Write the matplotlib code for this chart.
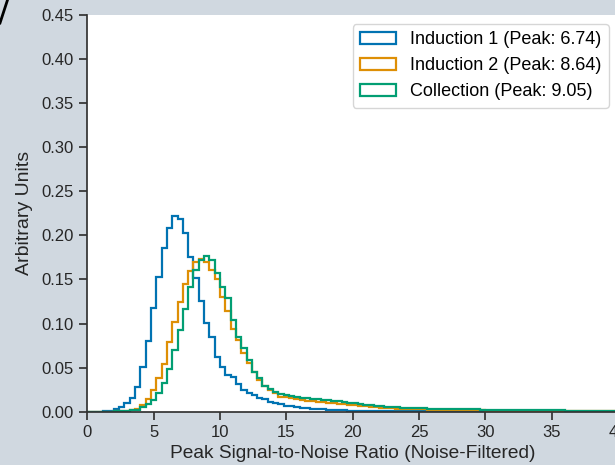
import numpy as np
import matplotlib
matplotlib.use('Agg')
import matplotlib.pyplot as plt
from matplotlib.lines import Line2D

# Dane (szerokosc przedzialu 0.4, zakres 0-40)
bin_edges = np.round(np.arange(0, 40.01, 0.4), 2)

induction1 = [
    0.0, 0.0, 0.0002, 0.0005, 0.0012, 0.003, 0.0057, 0.0099, 0.0159, 0.0284,
    0.051, 0.080, 0.1176, 0.153, 0.186, 0.2087, 0.222, 0.2186, 0.2024, 0.176,
    0.1513, 0.1256, 0.101, 0.085, 0.0624, 0.051, 0.0416, 0.039, 0.031, 0.025,
    0.021, 0.019, 0.016, 0.014, 0.0115, 0.0095, 0.0082, 0.0070, 0.0060, 0.0052,
    0.0045, 0.0039, 0.0034, 0.0030, 0.0026, 0.0022, 0.0019, 0.0016, 0.0014, 0.0012,
    0.0010, 0.0009, 0.0008, 0.0007, 0.0006, 0.0005, 0.0005, 0.0004, 0.0004, 0.0004,
    0.0003, 0.0003, 0.0003, 0.0003, 0.0003, 0.0003, 0.0003, 0.0003, 0.0003, 0.0003,
    0.0002, 0.0002, 0.0002, 0.0002, 0.0002, 0.0002, 0.0002, 0.0002, 0.0002, 0.0002,
    0.0002, 0.0002, 0.0002, 0.0002, 0.0002, 0.0001, 0.0001, 0.0001, 0.0001, 0.0001,
    0.0001, 0.0001, 0.0001, 0.0001, 0.0001, 0.0001, 0.0001, 0.0001, 0.0001, 0.0001,
]

induction2 = [
    0.0, 0.0, 0.0, 0.0001, 0.0002, 0.0004, 0.0008, 0.0013, 0.002, 0.0035,
    0.0076, 0.0144, 0.0246, 0.0386, 0.0538, 0.079, 0.1017, 0.124, 0.145, 0.1596,
    0.170, 0.173, 0.170, 0.161, 0.151, 0.130, 0.1145, 0.0935, 0.0813, 0.0662,
    0.0553, 0.045, 0.036, 0.029, 0.0246, 0.021, 0.017, 0.0163, 0.0152, 0.0142,
    0.0134, 0.0127, 0.0120, 0.0113, 0.0108, 0.0104, 0.0100, 0.0092, 0.0084, 0.0077,
    0.0071, 0.0065, 0.0059, 0.0054, 0.0050, 0.0046, 0.0042, 0.0039, 0.0036, 0.0034,
    0.0032, 0.0030, 0.0028, 0.0026, 0.0024, 0.0023, 0.0022, 0.0021, 0.0020, 0.0019,
    0.0017, 0.0016, 0.0015, 0.0014, 0.0014, 0.0013, 0.0012, 0.0012, 0.0011, 0.0011,
    0.0010, 0.0010, 0.0009, 0.0009, 0.0008, 0.0008, 0.0008, 0.0007, 0.0007, 0.0007,
    0.0006, 0.0006, 0.0006, 0.0005, 0.0005, 0.0005, 0.0005, 0.0004, 0.0004, 0.0004,
]

collection = [
    0.0, 0.0, 0.0, 0.0001, 0.0002, 0.0003, 0.0006, 0.001, 0.0015, 0.0022,
    0.005, 0.0084, 0.0133, 0.0209, 0.032, 0.049, 0.0695, 0.093, 0.1165, 0.141,
    0.1607, 0.172, 0.1766, 0.172, 0.157, 0.1418, 0.1286, 0.104, 0.085, 0.072,
    0.0586, 0.0454, 0.038, 0.029, 0.0255, 0.0227, 0.020, 0.019, 0.0178, 0.0170,
    0.0160, 0.0150, 0.0143, 0.0140, 0.0135, 0.0130, 0.0125, 0.0117, 0.0109, 0.0102,
    0.0094, 0.0086, 0.0078, 0.0072, 0.0066, 0.0060, 0.0056, 0.0052, 0.0048, 0.0045,
    0.0042, 0.0040, 0.0038, 0.0037, 0.0036, 0.0035, 0.0034, 0.0032, 0.0030, 0.0029,
    0.0028, 0.0027, 0.0026, 0.0025, 0.0024, 0.0023, 0.0022, 0.0021, 0.0021, 0.0020,
    0.0019, 0.0019, 0.0018, 0.0017, 0.0017, 0.0016, 0.0016, 0.0015, 0.0014, 0.0014,
    0.0013, 0.0012, 0.0012, 0.0011, 0.0010, 0.0010, 0.0009, 0.0009, 0.0008, 0.0008,
]

labels = ['Induction 1 (Peak: 6.74)', 'Induction 2 (Peak: 8.64)', 'Collection (Peak: 9.05)']
colors = ['#0173b2', '#de8f05', '#029e73']

plt.rcParams['font.family'] = ['Liberation Sans', 'DejaVu Sans']
ink = '#262626'

fig = plt.figure(figsize=(6.15, 4.65), dpi=100, facecolor='#d0d8e0')
ax = fig.add_axes([87.3 / 615, 53.3 / 465, 530.7 / 615, 396.7 / 465])
ax.set_facecolor('white')

centers = bin_edges[:-1] + 0.2
for vals, lab, col in zip([induction1, induction2, collection], labels, colors):
    ax.hist(centers, bins=bin_edges, weights=vals, histtype='step',
            color=col, linewidth=1.6, label=lab)

ax.set_xlim(0, 40)
ax.set_ylim(0, 0.45)
ax.set_xticks(np.arange(0, 41, 5))
ax.set_yticks(np.arange(0, 0.451, 0.05))
ax.yaxis.set_major_formatter(plt.FormatStrFormatter('%.2f'))

for s in ['top', 'right']:
    ax.spines[s].set_visible(False)
for s in ['left', 'bottom']:
    ax.spines[s].set_color('#333333')
    ax.spines[s].set_linewidth(1.25)
ax.tick_params(direction='out', length=6, width=1.25, color='#333333',
               labelcolor=ink, labelsize=12)

ax.set_xlabel('Peak Signal-to-Noise Ratio (Noise-Filtered)', fontsize=13.8, color=ink, labelpad=4)
ax.set_ylabel('Arbitrary Units', fontsize=14, color=ink, labelpad=6)

leg = ax.legend(loc='upper right', fontsize=13, frameon=True, borderaxespad=0.5)
leg.get_frame().set_edgecolor('#cccccc')

# ukosna kreska w lewym gornym rogu
fig.add_artist(Line2D([0, 7.5 / 615], [1 - 23 / 465, 1], color='black', linewidth=2,
                      transform=fig.transFigure))

fig.savefig('out.png', dpi=100, facecolor=fig.get_facecolor())
